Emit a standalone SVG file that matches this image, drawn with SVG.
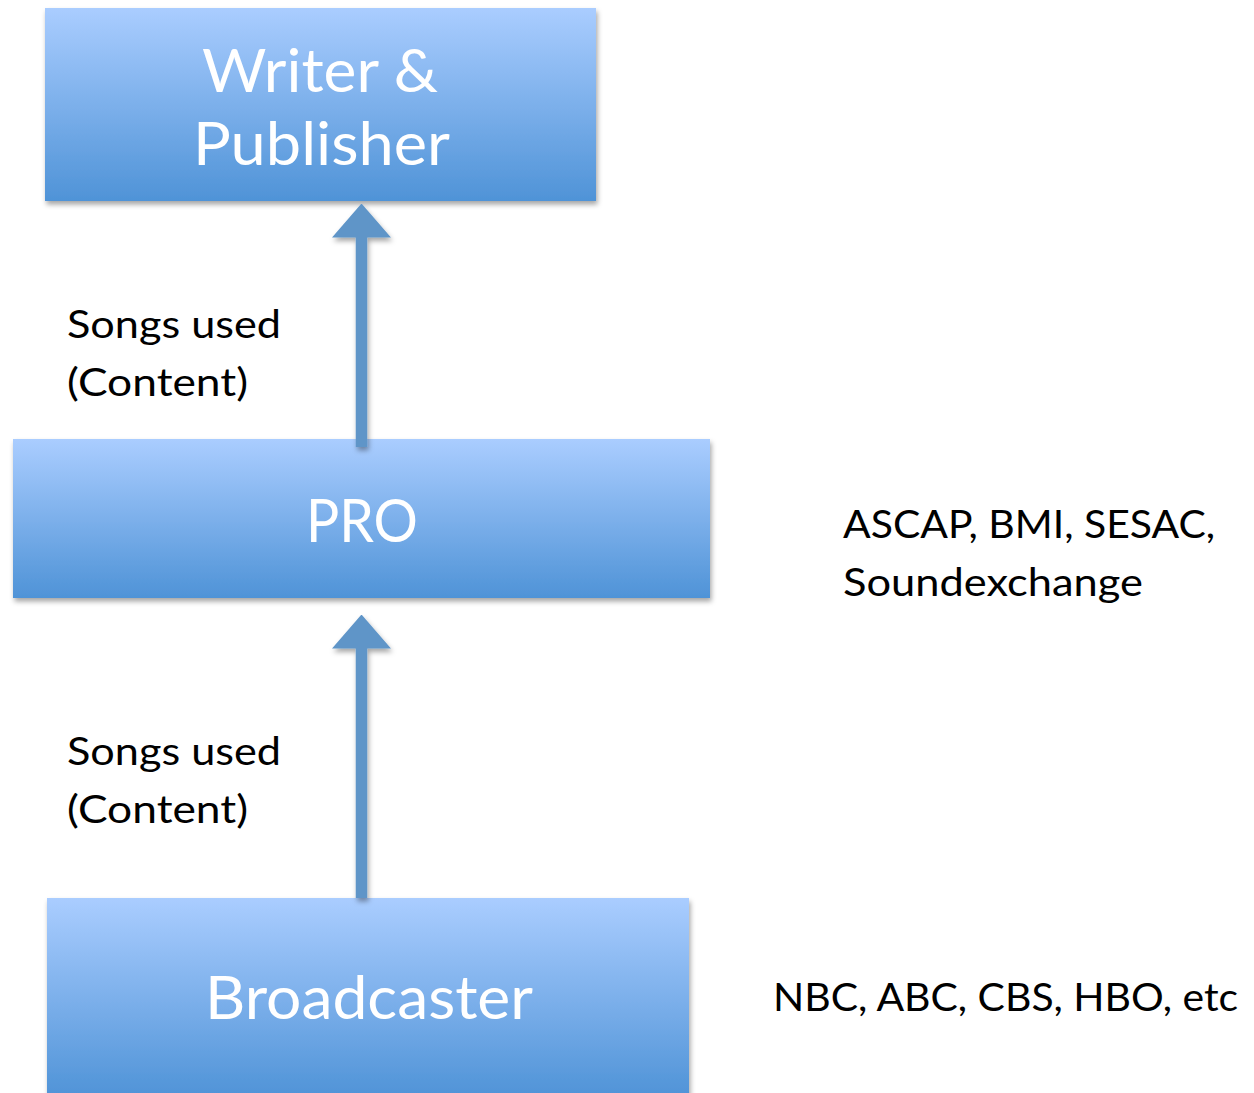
<svg xmlns="http://www.w3.org/2000/svg" width="1254" height="1093" viewBox="0 0 1254 1093">
  <defs>
    <linearGradient id="boxGrad" x1="0" y1="0" x2="0" y2="1">
      <stop offset="0" stop-color="#AACDFF"/>
      <stop offset="1" stop-color="#4F93D7"/>
    </linearGradient>
    <filter id="shadow" x="-10%" y="-10%" width="120%" height="130%">
      <feDropShadow dx="1.5" dy="3.5" stdDeviation="2.5" flood-color="#000" flood-opacity="0.35"/>
    </filter>
    <filter id="connShadow" filterUnits="userSpaceOnUse" x="0" y="0" width="1254" height="1093">
      <feDropShadow dx="1.5" dy="3.5" stdDeviation="2.5" flood-color="#000" flood-opacity="0.35"/>
    </filter>
    <marker id="arrowHead" viewBox="0 0 34 59" refX="0.5" refY="29.5" markerWidth="34" markerHeight="59" markerUnits="userSpaceOnUse" orient="auto">
      <path d="M0,0 L34,29.5 L0,59 Z" fill="#5F95C8"/>
    </marker>
  </defs>
  <style>
    .box { fill: url(#boxGrad); filter: url(#shadow); }
    .boxText { font-family: Lato, "Open Sans", sans-serif; font-size: 60px; fill: #FFFFFF; }
    .label { font-family: Lato, "Open Sans", sans-serif; font-size: 39px; fill: #000000; }
    .conn { stroke: #5F95C8; stroke-width: 11.5; fill: none; marker-end: url(#arrowHead); }
  </style>
  <rect width="1254" height="1093" fill="#FFFFFF"/>

  <g id="node-writer-publisher">
    <rect class="box" x="45" y="8" width="551" height="193"/>
    <text class="boxText" x="202" y="92" textLength="236" lengthAdjust="spacingAndGlyphs">Writer &amp;</text>
    <text class="boxText" x="193" y="165" textLength="257" lengthAdjust="spacingAndGlyphs">Publisher</text>
  </g>

  <g id="node-pro">
    <rect class="box" x="13" y="439" width="697" height="159"/>
    <text class="boxText" x="306" y="542" textLength="112" lengthAdjust="spacingAndGlyphs">PRO</text>
  </g>

  <g id="node-broadcaster">
    <rect class="box" x="47" y="898" width="642" height="200"/>
    <text class="boxText" x="205" y="1019" textLength="328" lengthAdjust="spacingAndGlyphs">Broadcaster</text>
  </g>

  <g id="connectors" filter="url(#connShadow)">
    <line class="conn" x1="361.5" y1="447" x2="361.5" y2="237"/>
    <line class="conn" x1="361.5" y1="898" x2="361.5" y2="648"/>
  </g>

  <g id="labels">
    <text class="label" x="67" y="338" textLength="214" lengthAdjust="spacingAndGlyphs">Songs used</text>
    <text class="label" x="67" y="396" textLength="181" lengthAdjust="spacingAndGlyphs">(Content)</text>
    <text class="label" x="67" y="765" textLength="214" lengthAdjust="spacingAndGlyphs">Songs used</text>
    <text class="label" x="67" y="823" textLength="181" lengthAdjust="spacingAndGlyphs">(Content)</text>
    <text class="label" x="843" y="538" textLength="372" lengthAdjust="spacingAndGlyphs">ASCAP, BMI, SESAC,</text>
    <text class="label" x="843" y="596" textLength="300" lengthAdjust="spacingAndGlyphs">Soundexchange</text>
    <text class="label" x="773" y="1011" textLength="465" lengthAdjust="spacingAndGlyphs">NBC, ABC, CBS, HBO, etc</text>
  </g>
</svg>
